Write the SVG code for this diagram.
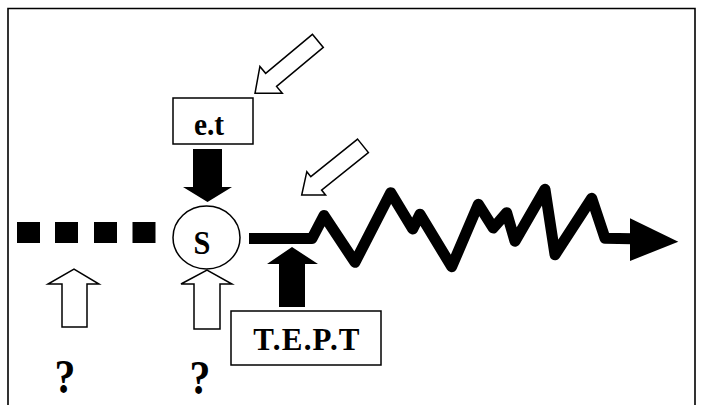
<svg xmlns="http://www.w3.org/2000/svg" width="704" height="405" viewBox="0 0 704 405">
<style>
.lbl{font-family:"Liberation Serif","Times New Roman",serif;font-weight:bold;fill:#000;text-anchor:middle}
.box{fill:#fff;stroke:#000;stroke-width:1.5}
.hollow{fill:#fff;stroke:#000;stroke-width:1.5;stroke-linejoin:miter}
.solid{fill:#000;stroke:none}
</style>
<rect width="704" height="405" fill="#fff"/>
<path d="M8,406 V8.5 H695 V406" fill="none" stroke="#000" stroke-width="1.6"/>
<g id="dashes">
<rect x="17" y="222" width="23" height="21" class="solid"/>
<rect x="55" y="222" width="23" height="21" class="solid"/>
<rect x="94" y="222" width="23" height="21" class="solid"/>
<rect x="132.5" y="222" width="23" height="21" class="solid"/>
</g>
<g id="node-et">
<rect x="173" y="98" width="80" height="46" class="box"/>
<text x="209" y="135" class="lbl" font-size="31" transform="translate(209 135) scale(0.95 1.05) translate(-209 -135)">e.t</text>
</g>
<g id="node-S">
<ellipse cx="206.5" cy="237.5" rx="33.5" ry="31.5" class="box"/>
<text x="202" y="254" class="lbl" font-size="33" transform="translate(202 254) scale(0.92 1.03) translate(-202 -254)">S</text>
</g>
<g id="node-TEPT">
<rect x="231" y="311" width="150" height="54" class="box"/>
<text x="307" y="350" class="lbl" font-size="31" letter-spacing="1.2">T.E.P.T</text>
</g>
<g id="q1"><text x="65" y="393" class="lbl" font-size="44" transform="translate(65 393) scale(0.95 1.1) translate(-65 -393)">?</text></g>
<g id="q2"><text x="200" y="394" class="lbl" font-size="44" transform="translate(200 394) scale(0.95 1.1) translate(-200 -394)">?</text></g>
<g id="connectors">
<polygon class="hollow" points="312.4,34.3 323.3,47.4 276.55,86.36 282.3,93.27 255,93.3 259.9,66.41 265.65,73.32"/>
<polygon class="hollow" points="357.6,139.14 368.4,152.56 321.58,190.07 325.58,195.06 301.7,195 306.82,171.66 310.82,176.65"/>
<polygon class="solid" points="193,149 222,149 222,187 232,187 207.5,202 183,187 193,187"/>
<polygon class="solid" points="279,307 305,307 305,264 318,264 292,247 267,264 279,264"/>
<polygon class="hollow" points="62,327 87,327 87,284 99,284 74,269 48,284 62,284"/>
<polygon class="hollow" points="194,329 220,329 220,284 232,284 207,270 181,284 194,284"/>
<polyline fill="none" stroke="#000" stroke-width="11" stroke-linejoin="round" stroke-linecap="butt" points="249,238.5 312,238.5 324,215.5 355,262.3 390.7,192.7 412.7,229 420,214.3 451.7,266.7 478.3,204.3 493.3,228 506.7,212.7 515,241.3 545,189.3 555,254.7 591.7,198.3 605,238.3 632,238.8"/>
<polygon class="solid" points="630,218.3 678.3,241.7 630,261"/>
</g>
</svg>
